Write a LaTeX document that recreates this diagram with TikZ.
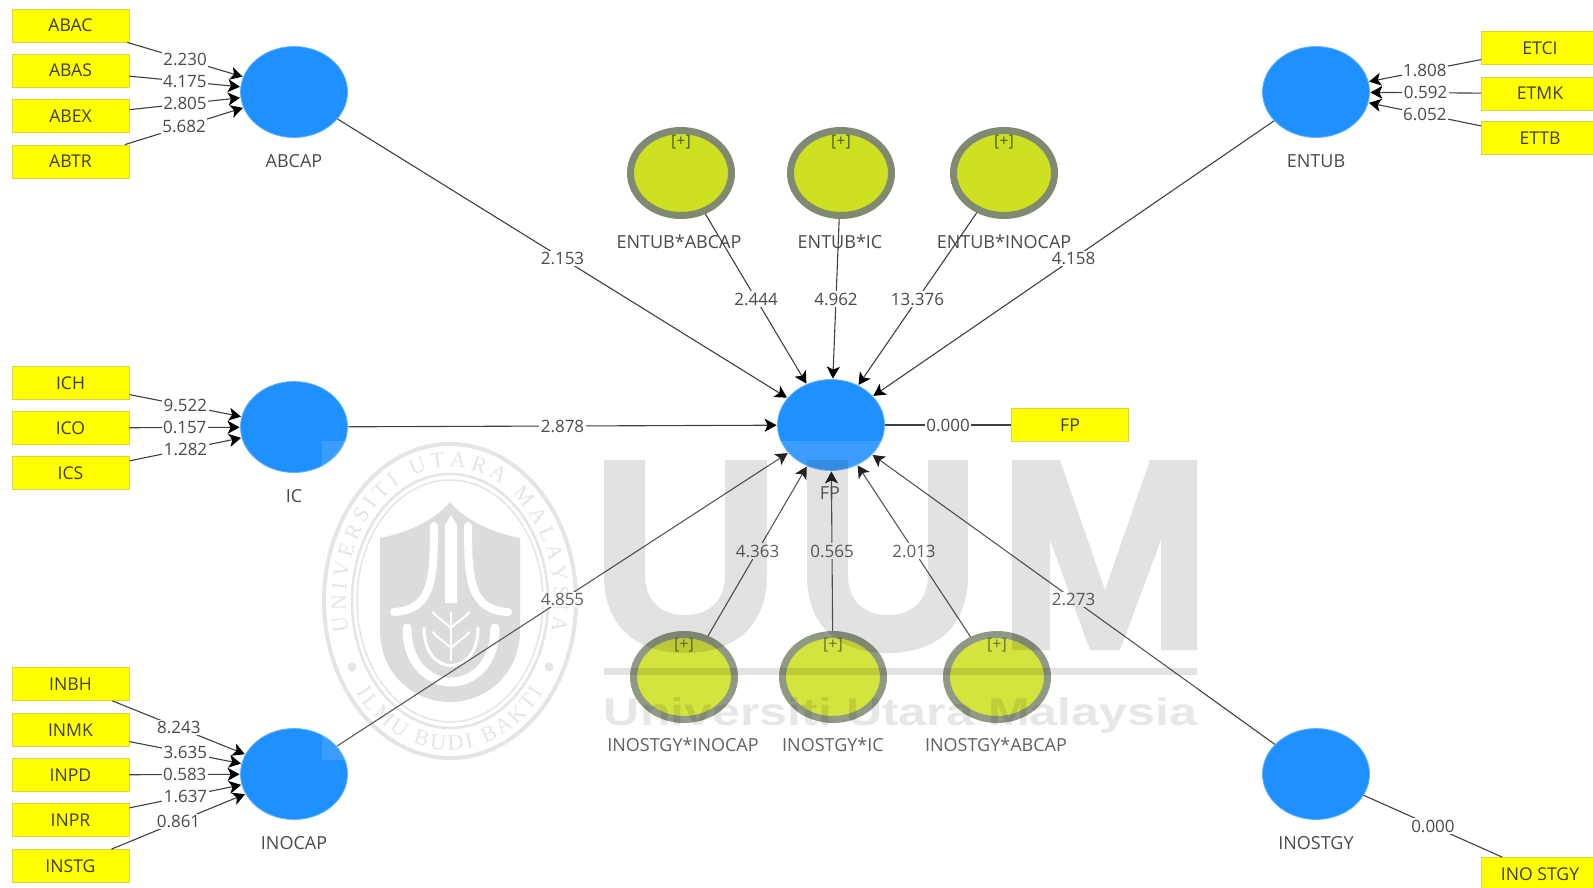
\documentclass[tikz,border=0pt]{standalone}
\usepackage{fontspec}
\usepackage{graphicx}
\setmainfont{Open Sans}
\newfontfamily\wmfont{Liberation Sans}
\newfontfamily\sealfont{Liberation Serif}
\usetikzlibrary{shapes.geometric,arrows.meta,decorations.text}
\definecolor{lv}{HTML}{1E90FF}
\definecolor{mod}{HTML}{CDE022}
\definecolor{modb}{HTML}{808A72}
\definecolor{ybox}{HTML}{FFFF00}
\definecolor{yborder}{HTML}{D6D640}
\definecolor{txt}{HTML}{4A4A4A}
\definecolor{edgec}{HTML}{404040}
\definecolor{seal}{HTML}{E2E2E2}
\definecolor{itemtxt}{HTML}{3F3F10}
\definecolor{plustxt}{HTML}{4F5F16}
\tikzset{
  x=1pt,y=1pt,
  every node/.style={font=\fontsize{17}{20}\selectfont,text=txt},
  lvnode/.style={ellipse,fill=lv,draw=lv!70!white,line width=.8pt,minimum width=107,minimum height=91,inner sep=0},
  modnode/.style={ellipse,fill=mod,draw=modb,line width=7pt,minimum width=101,minimum height=85,inner sep=0},
  itembox/.style={rectangle,fill=ybox,draw=yborder,line width=.8pt,minimum width=117,minimum height=33,inner sep=0,text=itemtxt,font=\fontsize{17.6}{20}\selectfont},
  lbl/.style={fill=white,inner sep=1.5pt,text=txt},
  captxt/.style={inner sep=0,text=txt,font=\fontsize{18}{20}\selectfont},
  plussign/.style={inner sep=0,font=\fontsize{16}{18}\selectfont,text=plustxt},
  linkline/.style={draw=edgec,line width=1.1pt},
  arrline/.style={linkline,-{Stealth[length=12pt,width=13pt,inset=3pt,black]},shorten >=.5pt},
  sealline/.style={draw=seal},
  cutline/.style={draw=white,line cap=round},
  wmfill/.style={fill=black,opacity=.115},
}
\begin{document}
\begin{tikzpicture}
\useasboundingbox (0,0) rectangle (1593,-887);
\clip (0,0) rectangle (1593,-887);
\fill[white] (0,0) rectangle (1593,-887);

% seal of the watermark
\draw[sealline,line width=4pt] (450,-601) ellipse [x radius=126pt,y radius=157pt];
\draw[sealline,line width=2.5pt] (450,-601) ellipse [x radius=98pt,y radius=127pt];
\draw[sealline,line width=1.5pt] (450,-601) ellipse [x radius=93pt,y radius=121pt];
\fill[seal] (352,-667) circle (4.5) (549,-667) circle (4.5);
\path[decorate,decoration={text along path,text align=fit to path,
  text={|\sealfont\fontsize{22}{24}\selectfont\color{seal}|UNIVERSITI UTARA MALAYSIA}}]
  (450,-601) ++(193:104pt and 134pt) arc[start angle=193,end angle=-13,x radius=104pt,y radius=134pt];
\path[decorate,decoration={text along path,text align=fit to path,
  text={|\sealfont\fontsize{22}{24}\selectfont\color{seal}|ILMU BUDI BAKTI}}]
  (450,-601) ++(-142:119pt and 149pt) arc[start angle=-142,end angle=-38,x radius=119pt,y radius=149pt];
\fill[seal!95!black] (450,-502) .. controls (435,-520) and (410,-532) .. (380,-538)
  -- (380,-630) .. controls (380,-675) and (415,-702) .. (450,-702)
  .. controls (485,-702) and (520,-675) .. (520,-630) -- (520,-538)
  .. controls (490,-532) and (465,-520) .. (450,-502) -- cycle;
\fill[white] (451,-515) -- (457,-525) -- (457,-603) -- (445,-603) -- (445,-525) -- cycle;
\draw[cutline,line width=8pt] (434,-526) .. controls (434,-580) and (432,-610) .. (394,-612);
\draw[cutline,line width=8pt] (468,-526) .. controls (468,-580) and (470,-610) .. (508,-612);
\draw[cutline,line width=9pt] (407,-628) .. controls (407,-700) and (495,-700) .. (495,-628);
\draw[cutline,line width=3pt] (424,-628) .. controls (424,-678) and (478,-678) .. (478,-628);
\draw[cutline,line width=2pt] (451,-612) -- (451,-660);
\draw[cutline,line width=2pt] (451,-628) .. controls (440,-618) and (435,-616) .. (433,-612);
\draw[cutline,line width=2pt] (451,-628) .. controls (462,-618) and (467,-616) .. (469,-612);
\draw[cutline,line width=2pt] (451,-648) .. controls (440,-638) and (435,-636) .. (433,-632);
\draw[cutline,line width=2pt] (451,-648) .. controls (462,-638) and (467,-636) .. (469,-632);

% latent variables
\node[lvnode] (ABCAP) at (294,-92) {};
\node[lvnode] (IC) at (294,-427) {};
\node[lvnode] (INOCAP) at (294,-774) {};
\node[lvnode] (FPv) at (831,-425) {};
\node[lvnode] (ENTUB) at (1316,-92) {};
\node[lvnode] (INOSTGY) at (1316,-774) {};
% moderators
\node[modnode] (EA) at (681,-173) {};
\node[modnode] (EI) at (841,-173) {};
\node[modnode] (EN) at (1004,-173) {};
\node[modnode] (IN) at (684,-677) {};
\node[modnode] (II) at (833,-677) {};
\node[modnode] (IA) at (997,-677) {};
\node[plussign] (pEA) at (681,-142) {[+]};
\node[plussign] (pEI) at (841,-142) {[+]};
\node[plussign] (pEN) at (1004,-142) {[+]};
\node[plussign] (pIN) at (684,-645) {[+]};
\node[plussign] (pII) at (833,-645) {[+]};
\node[plussign] (pIA) at (997,-645) {[+]};
% captions
\node[captxt] (cABCAP) at (294,-161) {ABCAP};
\node[captxt] (cIC) at (294,-496) {IC};
\node[captxt] (cINOCAP) at (294,-843) {INOCAP};
\node[captxt] (cFP) at (830,-493) {FP};
\node[captxt] (cENTUB) at (1316,-161) {ENTUB};
\node[captxt] (cINOSTGY) at (1316,-843) {INOSTGY};
\node[captxt] (cEA) at (679,-242) {ENTUB*ABCAP};
\node[captxt] (cEI) at (840,-242) {ENTUB*IC};
\node[captxt] (cEN) at (1004,-242) {ENTUB*INOCAP};
\node[captxt] (cIN) at (683,-745) {INOSTGY*INOCAP};
\node[captxt] (cII) at (833,-745) {INOSTGY*IC};
\node[captxt] (cIA) at (996,-745) {INOSTGY*ABCAP};
% indicators
\node[itembox] (ABAC) at (70.5,-25.5) {ABAC};
\node[itembox] (ABAS) at (70.5,-70.5) {ABAS};
\node[itembox] (ABEX) at (70.5,-116) {ABEX};
\node[itembox] (ABTR) at (70.5,-161.5) {ABTR};
\node[itembox] (ICH) at (70.5,-383) {ICH};
\node[itembox] (ICO) at (70.5,-428) {ICO};
\node[itembox] (ICS) at (70.5,-473) {ICS};
\node[itembox] (INBH) at (70.5,-684) {INBH};
\node[itembox] (INMK) at (70.5,-730) {INMK};
\node[itembox] (INPD) at (70.5,-775) {INPD};
\node[itembox] (INPR) at (70.5,-820) {INPR};
\node[itembox] (INSTG) at (70.5,-866) {INSTG};
\node[itembox] (ETCI) at (1540,-48) {ETCI};
\node[itembox] (ETMK) at (1540,-93.5) {ETMK};
\node[itembox] (ETTB) at (1540,-138) {ETTB};
\node[itembox] (FPi) at (1070,-425) {FP};
\node[itembox] (INOi) at (1540,-874) {INO STGY};

% measurement links
\draw[arrline] (ABAC) -- node[lbl] (w1) {2.230} (ABCAP);
\draw[arrline] (ABAS) -- node[lbl] (w2) {4.175} (ABCAP);
\draw[arrline] (ABEX) -- node[lbl] (w3) {2.805} (ABCAP);
\draw[arrline] (ABTR) -- node[lbl] (w4) {5.682} (ABCAP);
\draw[arrline] (ICH) -- node[lbl] (w5) {9.522} (IC);
\draw[arrline] (ICO) -- node[lbl] (w6) {0.157} (IC);
\draw[arrline] (ICS) -- node[lbl] (w7) {1.282} (IC);
\draw[arrline] (INBH) -- node[lbl] (w8) {8.243} (INOCAP);
\draw[arrline] (INMK) -- node[lbl] (w9) {3.635} (INOCAP);
\draw[arrline] (INPD) -- node[lbl] (w10) {0.583} (INOCAP);
\draw[arrline] (INPR) -- node[lbl] (w11) {1.637} (INOCAP);
\draw[arrline] (INSTG) -- node[lbl] (w12) {0.861} (INOCAP);
\draw[arrline] (ETCI) -- node[lbl] (w13) {1.808} (ENTUB);
\draw[arrline] (ETMK) -- node[lbl] (w14) {0.592} (ENTUB);
\draw[arrline] (ETTB) -- node[lbl] (w15) {6.052} (ENTUB);
\draw[linkline] (FPv) -- node[lbl] (w16) {0.000} (FPi);
\draw[linkline] (INOSTGY) -- node[lbl] (w17) {0.000} (INOi);
% structural links
\draw[arrline] (ABCAP) -- node[lbl] (b1) {2.153} (FPv);
\draw[arrline] (IC) -- node[lbl] (b2) {2.878} (FPv);
\draw[arrline] (INOCAP) -- node[lbl] (b3) {4.855} (FPv);
\draw[arrline] (ENTUB) -- node[lbl] (b4) {4.158} (FPv);
\draw[arrline] (INOSTGY) -- node[lbl] (b5) {2.273} (FPv);
\draw[arrline] (EA) -- node[lbl] (b6) {2.444} (FPv);
\draw[arrline] (EI) -- node[lbl] (b7) {4.962} (FPv);
\draw[arrline] (EN) -- node[lbl] (b8) {13.376} (FPv);
\draw[arrline] (IN) -- node[lbl] (b9) {4.363} (FPv);
\draw[arrline] (II) -- node[lbl] (b10) {0.565} (FPv);
\draw[arrline] (IA) -- node[lbl] (b11) {2.013} (FPv);

% watermark veil and lettering on top
\fill[white,opacity=.13] (322,-441) rectangle (1198,-760);
\fill[wmfill] (604,-460) -- (604,-575) .. controls (604,-630) and (640,-653) .. (685,-653)
  .. controls (730,-653) and (767,-630) .. (767,-575) -- (767,-460) -- (725,-460) -- (725,-575)
  .. controls (725,-600) and (710,-615) .. (685,-615) .. controls (660,-615) and (645,-600) .. (645,-575)
  -- (645,-460) -- cycle;
\fill[wmfill] (807,-460) -- (807,-575) .. controls (807,-630) and (843,-653) .. (888,-653)
  .. controls (933,-653) and (968,-630) .. (968,-575) -- (968,-460) -- (928,-460) -- (928,-575)
  .. controls (928,-600) and (913,-615) .. (888,-615) .. controls (863,-615) and (848,-600) .. (848,-575)
  -- (848,-460) -- cycle;
\fill[wmfill] (1012,-460) -- (1060,-460) -- (1105,-590) -- (1150,-460) -- (1197,-460) -- (1197,-650)
  -- (1161,-650) -- (1161,-540) -- (1120,-650) -- (1090,-650) -- (1050,-540) -- (1050,-650) -- (1012,-650) -- cycle;
\fill[wmfill] (604,-668) rectangle (1197,-675);
\node[anchor=base,inner sep=0,opacity=.095,text=black] (wmtext) at (900.5,-725)
  {\resizebox{593pt}{28pt}{\wmfont\bfseries\fontsize{39}{40}\selectfont Universiti Utara Malaysia}};
\end{tikzpicture}
\end{document}
